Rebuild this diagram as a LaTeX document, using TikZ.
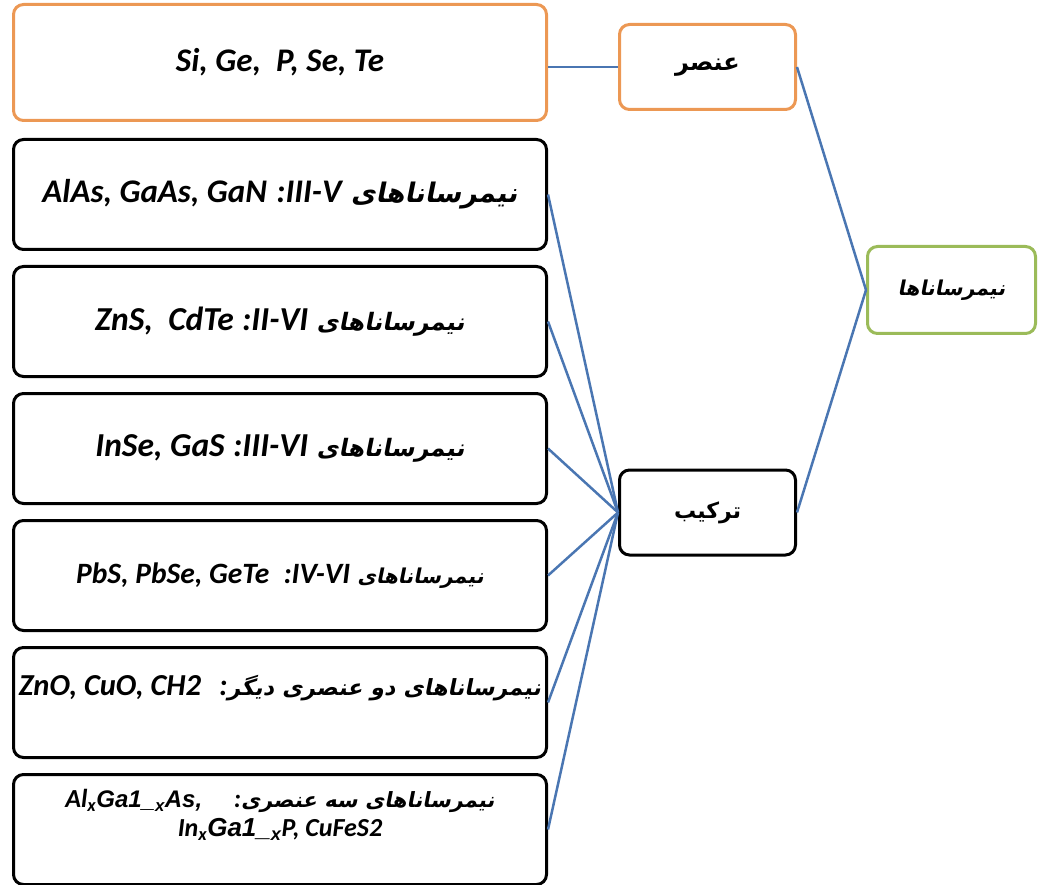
\documentclass[tikz,border=0pt]{standalone}
\usepackage{fontspec}
\setmainfont{Carlito}
\newfontfamily\arialfont{Liberation Sans}
\newfontfamily\fasl[Script=Arabic,FakeSlant=0.2]{DejaVu Sans Bold}
\newfontfamily\faup[Script=Arabic]{DejaVu Sans Bold}
\TeXXeTstate=1
\usepackage{tikz}
\usetikzlibrary{positioning}

\definecolor{boxorange}{RGB}{236,152,84}
\definecolor{boxgreen}{RGB}{155,187,89}
\definecolor{linkblue}{RGB}{74,118,178}

% latin (Calibri-like) and arial pieces, persian slanted font
\newcommand{\lat}[2]{{\normalfont\fontsize{#1}{#1}\selectfont\bfseries\itshape #2}}
\newcommand{\ari}[2]{{\arialfont\fontsize{#1}{#1}\selectfont\bfseries\itshape #2}}
\newcommand{\fa}[1]{\fontsize{#1}{#1}\fasl}

\begin{document}
\begin{tikzpicture}[x=1pt, y=-1pt, node distance=14pt,
        rowbox/.style={draw, rounded corners=10pt, line width=3pt, minimum width=533pt, minimum height=110pt, align=center, inner sep=2pt},
        sidebox/.style={draw, rounded corners=10pt, line width=3pt, minimum width=176pt, minimum height=85pt},
        link/.style={draw=linkblue, line width=2.5pt}]
        \useasboundingbox (0,0) rectangle (1039,885);

        % left column
        \node[rowbox, draw=boxorange, minimum height=116pt] (elems) at (280,62.5) {\lat{33}{Si, Ge,~ P, Se, Te}};
        \node[rowbox, below=16pt of elems] (r35) {\fa{27}\beginR نیمرساناهای \beginL\lat{33}{III-V}\endL\lat{33}{:} \beginL\lat{33}{AlAs, GaAs, GaN}\endL\endR};
        \node[rowbox, below=of r35] (r26) {\fa{24}\beginR نیمرساناهای \beginL\lat{33.5}{II-VI}\endL\lat{33.5}{:} \beginL\lat{33.5}{ZnS,~~CdTe}\endL\endR};
        \node[rowbox, below=of r26] (r36) {\fa{24}\beginR نیمرساناهای \beginL\lat{33.5}{III-VI}\endL\lat{33.5}{:} \beginL\lat{33.5}{InSe, GaS}\endL\endR};
        \node[rowbox, below=of r36] (r46) {\fa{20.5}\beginR نیمرساناهای \beginL\lat{29.5}{IV-VI}\endL\lat{29.5}{:}~ \beginL\lat{29.5}{PbS, PbSe, GeTe}\endL\endR};
        \node[rowbox, below=of r46, text depth=34pt] (rbin) {\fa{22.3}\beginR نیمرساناهای دو عنصری دیگر\lat{30.5}{:}~ \beginL\lat{30.5}{ZnO, CuO, CH2}\endL\endR};
        \node[rowbox, below=of rbin, text depth=33pt, font=\fontsize{24}{29}\selectfont] (rter) {{\fa{21}\beginR نیمرساناهای سه عنصری\lat{26}{:}~~~ \beginL\lat{26}{Al\textsubscript{x}}\ari{24}{Ga1\_\textsubscript{x}As,}\endL\endR}\\
            \lat{26}{In\textsubscript{x}}\ari{26}{Ga1\_\textsubscript{x}}\lat{26}{P, CuFeS2}};

        % right column
        \node[sidebox, draw=boxorange, font=\fontsize{24}{28}\selectfont] (elem) at (707.5,67) {\faup\beginR عنصر\endR};
        \node[sidebox, font=\fontsize{22}{26}\selectfont] (comp) at (707.5,512.5) {\faup\beginR ترکیب\endR};
        \node[sidebox, draw=boxgreen, minimum width=168pt, minimum height=87pt] (semi) at (951.5,290) {\fa{20.5}\beginR نیمرساناها\endR};

        \draw[link] (elems.east |- elem.west) -- (elem.west);
        \draw[link] (elem.east) -- (semi.west);
        \draw[link] (comp.east) -- (semi.west);
        \foreach \r in {r35,r26,r36,r46,rbin,rter}
            \draw[link] (\r.east) -- (comp.west);
    \end{tikzpicture}
\end{document}
